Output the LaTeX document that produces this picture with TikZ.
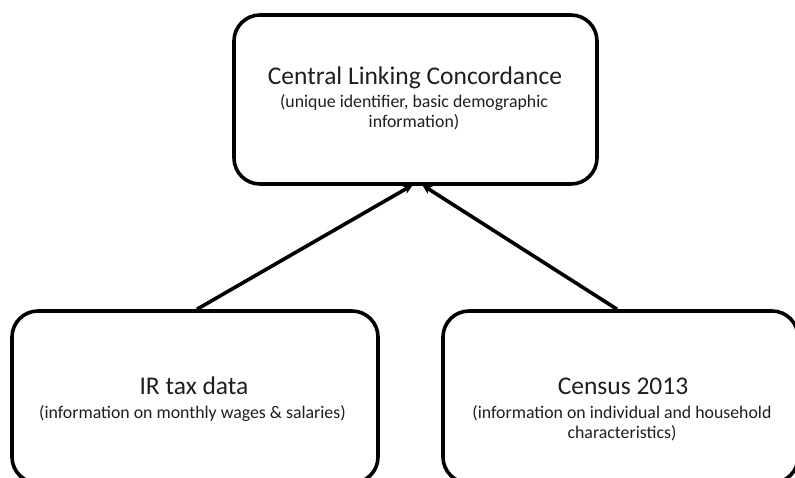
\documentclass[tikz,border=0pt]{standalone}
\usepackage{fontspec}
\setmainfont{Carlito}
\usetikzlibrary{arrows.meta}
\begin{document}
\begin{tikzpicture}[x=1pt,y=-1pt,
  box/.style={draw=black,line width=3.6pt,rounded corners=26pt,fill=white},
  ttl/.style={anchor=base,inner sep=0pt,font=\fontsize{25.5}{30}\selectfont,color=black!88},
  sub/.style={anchor=base,inner sep=0pt,font=\fontsize{17.8}{20}\selectfont,color=black!88,align=center},
  arr/.style={line width=3.6pt,-{Stealth[length=10pt,width=9pt]}}]
\useasboundingbox (0,0) rectangle (795,477);
\clip (0,0) rectangle (795,477);
\node[box,minimum width=363pt,minimum height=169pt] (top) at (415.5,99.5) {};
\node[box,minimum width=366pt,minimum height=172pt] (irbox) at (195,397) {};
\node[box,minimum width=355pt,minimum height=172pt] (cbox) at (620.5,397) {};
\node[ttl] (toptitle) at (415,84.3) {Central Linking Concordance};
\node[sub] (topsub) at (414,127.7) {(unique identifier, basic demographic\\information)};
\node[ttl] (irtitle) at (194,394) {IR tax data};
\node[sub] (irsub) at (192.5,418.3) {(information on monthly wages \& salaries)};
\node[ttl] (ctitle) at (623,394.3) {Census 2013};
\node[sub] (csub) at (622,438.3) {(information on individual and household\\characteristics)};
\draw[arr] ([xshift=2pt]irbox.north) -- ([xshift=-2.5pt,yshift=1pt]top.south);
\draw[arr] ([xshift=-3.5pt]cbox.north) -- ([xshift=6.5pt,yshift=1pt]top.south);
\end{tikzpicture}
\end{document}
